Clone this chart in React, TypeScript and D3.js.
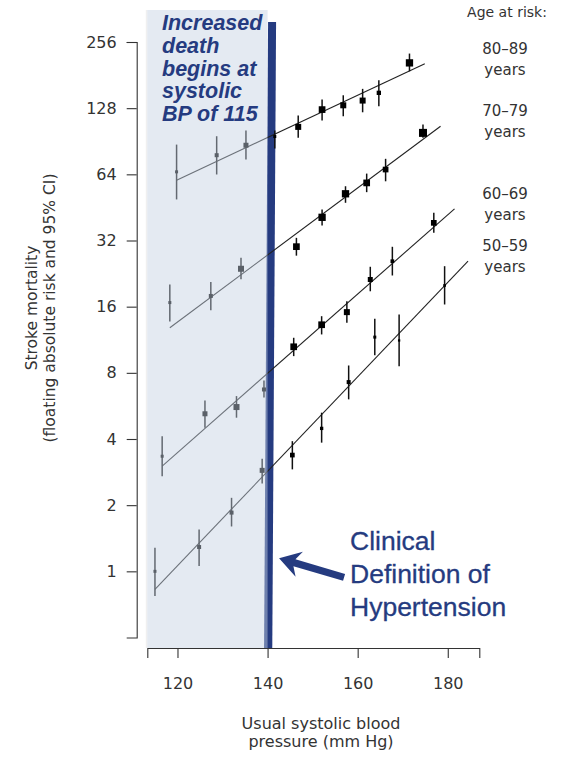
import * as d3 from "d3";
import { useRef, useEffect } from "react";

// age bands, top to bottom
const ageGroups = ["80–89", "70–79", "60–69", "50–59"];

// usual systolic BP (mm Hg) for each point
const sbp80 = [119.8, 128.7, 135.2, 141.6, 146.8, 152.1, 156.8, 161.1, 164.7, 171.5];
const sbp70 = [118.3, 127.4, 134.1, 146.4, 152.1, 157.3, 162.0, 166.2, 174.5];
const sbp60 = [116.6, 126.1, 133.1, 139.2, 145.8, 152.0, 157.6, 162.8, 167.7, 176.9];
const sbp50 = [115.0, 124.8, 132.0, 138.8, 145.5, 152.0, 158.0, 163.8, 169.2, 179.3];

// floating absolute risk
const risk80 = [65.7, 78.2, 86.8, 95.1, 105.2, 126.1, 131.9, 138.6, 150.3, 205.7];
const risk70 = [16.7, 17.9, 23.8, 30.0, 40.8, 52.2, 58.5, 67.3, 98.8];
const risk60 = [3.34, 5.21, 5.59, 6.72, 10.51, 13.24, 15.11, 21.27, 25.76, 38.5];
const risk50 = [1.0, 1.29, 1.85, 2.88, 3.38, 4.47, 7.26, 11.63, 11.23, 19.98];

// 95% CI
const lo80 = [49.2, 63.9, 74.7, 83.9, 93.8, 112.4, 117.6, 122.6, 130.6, 188.3];
const hi80 = [87.4, 95.4, 101.3, 101.3, 118.4, 140.1, 146.5, 156.7, 171.4, 226.8];
const lo70 = [13.7, 15.4, 21.3, 27.3, 37.4, 47.5, 53.1, 59.5, 93.8];
const hi70 = [20.2, 20.7, 26.7, 32.9, 44.3, 56.5, 64.5, 75.3, 107.8];
const lo60 = [2.71, 4.5, 5.0, 6.18, 9.53, 11.96, 13.52, 18.8, 22.18, 34.7];
const hi60 = [4.12, 5.99, 6.27, 7.39, 11.55, 14.48, 16.95, 24.3, 29.96, 42.8];
const lo50 = [0.772, 1.057, 1.6, 2.51, 2.91, 3.85, 6.06, 9.63, 8.58, 16.37];
const hi50 = [1.28, 1.55, 2.16, 3.25, 3.91, 5.27, 8.64, 14.1, 14.75, 24.45];

// number of events (drives the square size)
const ev80 = [135, 240, 375, 135, 540, 673, 540, 540, 280, 800];
const ev70 = [135, 240, 540, 673, 800, 800, 673, 485, 960];
const ev60 = [135, 375, 540, 240, 673, 673, 540, 375, 205, 485];
const ev50 = [135, 240, 240, 375, 330, 165, 240, 135, 80, 110];

// fitted lines: [sbp, risk] at both ends
const fit80 = [[119.8, 60.2], [174.9, 203.6]];
const fit70 = [[118.3, 12.83], [178.4, 105.9]];
const fit60 = [[116.6, 3.01], [181.5, 44.6]];
const fit50 = [[115.0, 0.828], [184.5, 25.76]];

const xTicks = [120, 140, 160, 180];
const yTicks = [1, 2, 4, 8, 16, 32, 64, 128, 256];
const clinicalSbp = 140;

const navy = "#253b80";
const sans = "'DejaVu Sans', sans-serif";
const arial = "'Liberation Sans', Arial, sans-serif";

export default function App() {
  const ref = useRef<SVGSVGElement>(null);

  useEffect(() => {
    const svg = d3.select(ref.current);
    svg.selectAll("*").remove();

    const groups = [
      { name: ageGroups[0], sbp: sbp80, risk: risk80, lo: lo80, hi: hi80, ev: ev80, fit: fit80 },
      { name: ageGroups[1], sbp: sbp70, risk: risk70, lo: lo70, hi: hi70, ev: ev70, fit: fit70 },
      { name: ageGroups[2], sbp: sbp60, risk: risk60, lo: lo60, hi: hi60, ev: ev60, fit: fit60 },
      { name: ageGroups[3], sbp: sbp50, risk: risk50, lo: lo50, hi: hi50, ev: ev50, fit: fit50 },
    ];

    const x = d3.scaleLinear().domain([113.3, 187]).range([147.3, 479.3]);
    const y = d3.scaleLog().base(2).domain([0.5, 256]).range([637.5, 42]);
    const size = d3.scaleSqrt().domain([0, 960]).range([0, 8]);
    const axisY = 648;

    // vertical marker at 140 (drawn under the shaded box)
    const cx = x(clinicalSbp);
    svg.append("polygon")
      .attr("points", [[cx + 0.5, 22], [cx + 8.5, 22], [cx + 4.7, axisY], [cx - 3.5, axisY]].map(p => p.join(",")).join(" "))
      .attr("fill", navy);

    const line = d3.line<number[]>().x(d => x(d[0])).y(d => y(d[1]));

    groups.forEach(g => {
      const pts = g.sbp.map((s, i) => ({ s, r: g.risk[i], lo: g.lo[i], hi: g.hi[i], e: g.ev[i] }));
      const gg = svg.append("g");
      gg.append("path")
        .attr("d", line(g.fit))
        .attr("fill", "none")
        .attr("stroke", "#222")
        .attr("stroke-width", 1.1);
      gg.selectAll("line.ci").data(pts).join("line")
        .attr("x1", d => x(d.s)).attr("x2", d => x(d.s))
        .attr("y1", d => y(d.lo)).attr("y2", d => y(d.hi))
        .attr("stroke", "#111")
        .attr("stroke-width", 1.5);
      gg.selectAll("rect").data(pts).join("rect")
        .attr("x", d => x(d.s) - size(d.e) / 2)
        .attr("y", d => y(d.r) - size(d.e) / 2)
        .attr("width", d => size(d.e))
        .attr("height", d => size(d.e))
        .attr("fill", "#000");

      // age label at the end of the fit line
      const yEnd = y(g.fit[1][1]);
      svg.append("text").attr("x", 505).attr("y", yEnd - 10)
        .attr("text-anchor", "middle").style("font", `15px ${sans}`).attr("fill", "#333")
        .text(g.name);
      svg.append("text").attr("x", 505).attr("y", yEnd + 11)
        .attr("text-anchor", "middle").style("font", `15px ${sans}`).attr("fill", "#333")
        .text("years");
    });

    // shaded box (below 140 mm Hg), translucent so marks turn grey
    svg.append("rect")
      .attr("x", x.range()[0] - 1.5).attr("y", 10)
      .attr("width", 1.5).attr("height", axisY - 10)
      .attr("fill", "#000").attr("opacity", 0.06);
    svg.append("rect")
      .attr("x", x.range()[0]).attr("y", 10)
      .attr("width", cx - x.range()[0]).attr("height", axisY - 10)
      .attr("fill", "rgb(196,209,226)")
      .attr("opacity", 0.46);

    // axes
    const xAxis = svg.append("g")
      .attr("transform", `translate(0,${axisY})`)
      .call(d3.axisBottom(x).tickValues(xTicks).tickSize(10).tickSizeOuter(10).tickPadding(20));
    const yAxis = svg.append("g")
      .attr("transform", "translate(136.7,0)")
      .call(d3.axisLeft(y).tickValues(yTicks).tickFormat(d3.format("d")).tickSize(10).tickSizeOuter(10).tickPadding(10));
    [xAxis, yAxis].forEach(a => {
      a.attr("font-family", null).attr("font-size", null);
      a.selectAll("path,line").attr("stroke", "#333").attr("stroke-width", 1.1);
      a.selectAll("text").style("font", `16px ${sans}`).attr("fill", "#333");
    });

    // axis titles
    svg.append("text").attr("x", 321).attr("y", 729).attr("text-anchor", "middle")
      .style("font", `16px ${sans}`).attr("fill", "#333").text("Usual systolic blood");
    svg.append("text").attr("x", 321).attr("y", 747).attr("text-anchor", "middle")
      .style("font", `16px ${sans}`).attr("fill", "#333").text("pressure (mm Hg)");
    const yt = svg.append("g").attr("transform", "translate(0,308) rotate(-90)");
    yt.append("text").attr("x", 0).attr("y", 37).attr("text-anchor", "middle")
      .style("font", `15.5px ${sans}`).attr("fill", "#333").text("Stroke mortality");
    yt.append("text").attr("x", 0).attr("y", 55).attr("text-anchor", "middle")
      .style("font", `15.5px ${sans}`).attr("fill", "#333").text("(floating absolute risk and 95% CI)");

    svg.append("text").attr("x", 507).attr("y", 17).attr("text-anchor", "middle")
      .style("font", `14px ${sans}`).attr("fill", "#333").text("Age at risk:");

    // annotations
    const note = ["Increased", "death", "begins at", "systolic", "BP of 115"];
    svg.append("g").selectAll("text").data(note).join("text")
      .attr("x", 162).attr("y", (d, i) => 30 + i * 22.8)
      .style("font", `italic bold 21.5px ${arial}`).attr("fill", navy)
      .text(d => d);

    const clinical = ["Clinical", "Definition of", "Hypertension"];
    svg.append("g").selectAll("text").data(clinical).join("text")
      .attr("x", 350).attr("y", (d, i) => 550 + i * 33)
      .style("font", `26.5px ${arial}`).attr("fill", navy)
      .attr("stroke", navy).attr("stroke-width", 0.3)
      .text(d => d);

    // arrow pointing at the 140 line
    const tip = [cx + 11.5, y(1) - 13];
    const tail = [cx + 76.5, y(1) + 6];
    const len = Math.hypot(tail[0] - tip[0], tail[1] - tip[1]);
    const u = [(tip[0] - tail[0]) / len, (tip[1] - tail[1]) / len];
    const n = [-u[1], u[0]];
    const at = (b: number[], a: number, w: number) => [b[0] + u[0] * a + n[0] * w, b[1] + u[1] * a + n[1] * w];
    const arrow = [tip, at(tip, -21, 13), at(tip, -16, 3.6), at(tail, 0, 3.6), at(tail, 0, -3.6), at(tip, -16, -3.6), at(tip, -21, -13)];
    svg.append("polygon")
      .attr("points", arrow.map(p => p.join(",")).join(" "))
      .attr("fill", navy);
  }, []);

  return (
    <svg ref={ref} width={564} height={757}
      style={{ position: "absolute", left: 0, top: 0, background: "#fff" }} />
  );
}
